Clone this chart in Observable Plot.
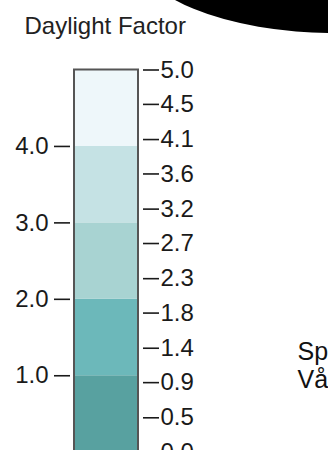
<!DOCTYPE html>
<html><head><meta charset="utf-8">
<script src="https://cdn.jsdelivr.net/npm/d3@7"></script>
<script src="https://cdn.jsdelivr.net/npm/@observablehq/plot@0.6"></script>
<style>html,body{margin:0;padding:0;background:#fff;} svg{display:block}</style>
</head><body><div id="chart"></div>
<script>
const title = "Daylight Factor";
const bandLower = [0, 1, 2, 3, 4];
const bandUpper = [1, 2, 3, 4, 5];
const bandColors = ["#58a1a0", "#6cb8ba", "#a8d3d2", "#c5e2e4", "#eef7fa"];
const leftTicks = [1, 2, 3, 4];
const rightTicks = [0, 0.45, 0.91, 1.36, 1.82, 2.27, 2.73, 3.18, 3.64, 4.09, 4.55, 5.0];
const rightLabels = ["0.0", "0.5", "0.9", "1.4", "1.8", "2.3", "2.7", "3.2", "3.6", "4.1", "4.5", "5.0"];
const sideLabels = ["Sp", "Vå"];

const bands = bandLower.map((lo, i) => ({lo, hi: bandUpper[i], color: bandColors[i]}));
const font = "'Liberation Sans', Arial, Helvetica, sans-serif";

function blob(index, scales, values, dims) {
  const e = document.createElementNS("http://www.w3.org/2000/svg", "ellipse");
  e.setAttribute("cx", dims.width + 7);
  e.setAttribute("cy", -49.5);
  e.setAttribute("rx", 200);
  e.setAttribute("ry", 82.5);
  e.setAttribute("fill", "#000");
  return e;
}

const chart = Plot.plot({
  width: 328,
  height: 450,
  marginLeft: 70,
  marginRight: 186,
  marginTop: 0,
  marginBottom: 0,
  style: {fontFamily: font, fontSize: "24px", background: "#fff", color: "#222"},
  x: {domain: [0, 1], range: [74, 138], axis: null},
  y: {domain: [0, 5], range: [451.7, 69.5]},
  marks: [
    blob,
    Plot.rect(bands, {x1: 0, x2: 1, y1: "lo", y2: "hi", fill: "color"}),
    Plot.rect([bands], {x1: 0, x2: 1, y1: bandLower[0], y2: bandUpper[bandUpper.length - 1], fill: "none", stroke: "#555", strokeWidth: 2}),
    Plot.axisY(leftTicks, {anchor: "left", tickSize: 16, tickPadding: 6, tickFormat: d => d.toFixed(1), fontSize: 24, color: "#1a1a1a", strokeWidth: 1.6, label: null}),
    Plot.axisY(rightTicks, {anchor: "right", tickSize: 16, tickPadding: 2, tickFormat: d => rightLabels[rightTicks.indexOf(d)], fontSize: 24, color: "#1a1a1a", strokeWidth: 1.6, label: null}),
    Plot.text([title], {text: d => d, frameAnchor: "top-left", textAnchor: "start", lineAnchor: "bottom", dx: -46, dy: 33, fontSize: 24, fill: "#222"}),
    Plot.text([sideLabels.join("\n")], {text: d => d, frameAnchor: "top-left", textAnchor: "start", lineAnchor: "bottom", lineHeight: 1.1, dx: 227, dy: 387, fontSize: 25, fill: "#111"})
  ]
});
document.getElementById("chart").appendChild(chart);
</script>
</body></html>
